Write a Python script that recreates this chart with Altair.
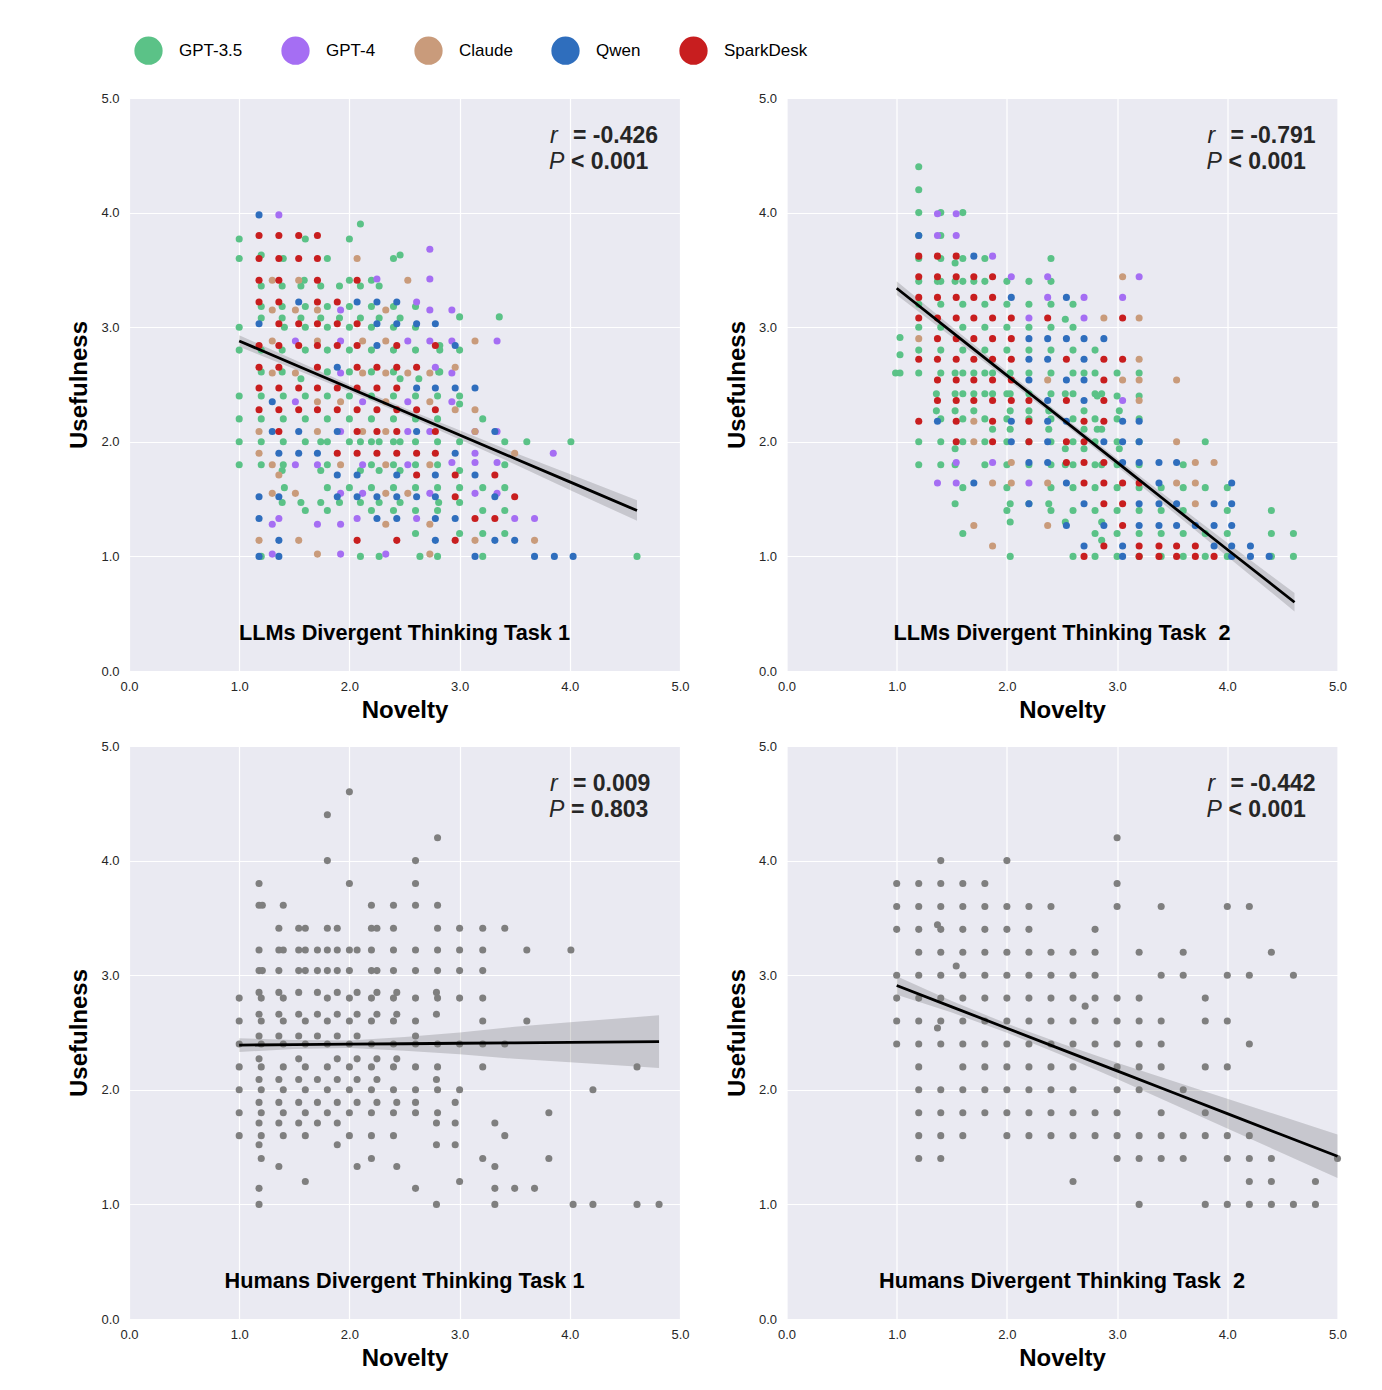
import altair as alt
import pandas as pd

SERIES = ["GPT-3.5", "GPT-4", "Claude", "Qwen", "SparkDesk"]
COLORS = ["#5bc287", "#a56ef3", "#c99b7b", "#2f6ebd", "#c81e1f"]
HUMAN_COLOR = "#7f7f7f"

# ---------------- Panel 1: LLMs task 1 (usefulness row -> novelty values)
P1_GPT35 = {
    3.90: [2.10], 3.77: [1.0, 1.60, 2.0], 3.63: [1.20, 2.46], 3.60: [1.0, 1.40, 1.80, 2.40],
    3.41: [1.59, 2.0, 2.20], 3.36: [1.20, 1.39, 1.56, 1.74, 1.91, 2.10, 2.27],
    3.18: [1.20, 1.39, 1.60, 1.80, 2.0, 2.20, 2.40, 2.60], 3.09: [3.0, 3.36],
    3.08: [1.20, 1.39, 1.56, 1.74, 1.91, 2.10, 2.27, 2.46],
    3.00: [1.0, 1.41, 1.60, 1.80, 2.0, 2.20, 2.40, 2.60], 2.84: [2.82],
    2.80: [1.0, 1.20, 1.39, 1.60, 1.80, 2.0, 2.20, 2.40, 2.60, 2.82, 3.0],
    2.61: [1.20, 1.39, 1.80, 2.0, 2.20, 2.40, 2.81, 2.82], 2.55: [1.56, 2.46, 2.63],
    2.40: [1.0, 1.20, 1.40, 1.60, 1.80, 2.0, 2.20, 2.40, 2.60, 2.80, 3.0], 2.33: [3.0],
    2.20: [1.0, 1.20, 1.40, 1.60, 1.80, 2.0, 2.20, 2.40, 2.60, 2.80, 3.21],
    2.00: [1.0, 1.20, 1.40, 1.60, 1.74, 1.80, 2.0, 2.10, 2.20, 2.27, 2.40, 2.46, 2.60, 2.80, 3.0, 3.41, 3.61, 4.01],
    1.80: [1.0, 1.20, 1.40, 1.80, 2.20, 2.40, 2.60, 2.80, 3.41],
    1.75: [1.39, 1.74, 2.10, 2.27, 2.46, 3.0],
    1.60: [1.41, 1.80, 2.0, 2.20, 2.40, 2.60, 2.80, 3.0, 3.21, 3.41],
    1.47: [1.39, 1.56, 1.74, 1.91, 2.10, 2.27, 2.46, 2.81, 3.0],
    1.40: [1.60, 1.80, 2.20, 2.40, 2.60, 2.80, 3.21, 3.41],
    1.20: [2.60, 3.0, 3.21, 3.41],
    1.00: [1.20, 2.10, 2.27, 2.64, 2.80, 3.21, 4.61],
}
P1_GPT4 = {
    3.98: [1.36], 3.68: [2.73], 3.42: [2.25, 2.73], 3.22: [2.61], 3.15: [1.92, 2.73, 2.93],
    2.88: [1.51, 1.92, 2.53, 2.73, 2.93, 3.34], 2.65: [2.78], 2.60: [1.92, 2.93],
    2.35: [1.51, 2.12, 2.53, 2.93], 2.09: [1.92, 2.53, 2.73, 3.14, 3.34], 1.90: [3.14, 3.85],
    1.82: [2.93, 3.14, 3.34], 1.80: [1.51, 1.71, 2.12, 2.53], 1.55: [1.92, 2.12, 2.73, 3.14, 3.34],
    1.33: [1.36, 2.07, 2.61, 3.50, 3.68], 1.28: [1.30, 1.71, 1.92], 1.02: [1.30, 1.92, 2.33],
}
P1_CLAUDE = {
    3.60: [2.07], 3.41: [1.30, 1.54, 2.53], 3.15: [1.30, 1.51, 1.71, 2.33],
    2.88: [1.30, 1.71, 2.12, 2.33, 3.14], 2.65: [2.96], 2.60: [1.30, 1.51, 2.12, 2.33, 2.53, 2.73],
    2.35: [1.71, 1.92, 2.33, 2.73], 2.28: [2.96, 3.14], 2.09: [1.18, 1.71, 2.12, 2.33, 3.14],
    1.90: [1.18, 3.50], 1.80: [1.30, 1.92, 2.33, 2.73], 1.71: [1.36], 1.55: [1.30, 1.51, 2.33, 2.53],
    1.28: [2.33, 2.73], 1.14: [1.18, 1.54, 3.14, 3.68], 1.02: [1.71, 2.73],
}
P1_QWEN = {
    3.98: [1.18], 3.22: [1.54, 2.07, 2.25, 2.43], 3.03: [1.18, 2.25, 2.43, 2.61, 2.78],
    2.84: [2.25, 2.96], 2.65: [1.89], 2.47: [2.61, 2.78, 2.96, 3.14], 2.35: [1.30],
    2.09: [1.30, 1.54, 1.89, 2.61, 3.32], 1.90: [1.36, 1.54, 1.71, 2.96],
    1.71: [1.89, 2.07, 2.43, 2.78, 3.14],
    1.52: [1.18, 1.36, 1.89, 2.07, 2.25, 2.43, 2.61, 2.78, 3.32],
    1.33: [1.18, 2.25, 2.43, 2.78, 2.96], 1.14: [1.36, 2.78, 3.32, 3.50],
    1.00: [1.18, 1.36, 3.14, 3.68, 3.86, 4.03],
}
P1_SPARK = {
    3.80: [1.18, 1.36, 1.54, 1.71], 3.60: [1.18, 1.36, 1.54, 1.71], 3.41: [1.18, 1.36, 1.71, 2.07],
    3.22: [1.18, 1.36, 1.71, 1.89], 3.03: [1.36, 1.54, 1.71, 1.89, 2.07],
    2.84: [1.18, 1.36, 1.54, 1.71, 1.89, 2.07, 2.43, 2.78],
    2.65: [1.18, 1.36, 1.71, 2.07, 2.25, 2.43, 2.61],
    2.47: [1.18, 1.36, 1.54, 1.71, 1.89, 2.07, 2.25, 2.43],
    2.28: [1.18, 1.36, 1.54, 1.71, 1.89, 2.07, 2.25, 2.43, 2.61, 2.78],
    2.09: [1.36, 2.07, 2.25, 2.43, 2.78], 1.90: [1.89, 2.07, 2.25, 2.43, 2.61, 2.78],
    1.71: [2.61, 2.96, 3.32], 1.52: [2.96, 3.50], 1.33: [3.14, 3.32], 1.14: [2.07, 2.43, 2.96],
}

# ---------------- Panel 2: LLMs task 2
P2_GPT35 = {
    4.40: [1.20], 4.20: [1.20], 4.00: [1.20, 1.40, 1.60], 3.80: [1.20, 1.40],
    3.60: [1.20, 1.40, 1.60, 1.80, 2.40], 3.56: [1.53],
    3.40: [1.20, 1.37, 1.40, 1.53, 1.60, 1.70, 1.80, 2.0, 2.20, 2.40],
    3.20: [1.20, 1.40, 1.60, 1.80, 2.0, 2.20, 2.40, 2.60], 3.07: [2.53],
    3.00: [1.20, 1.40, 1.60, 1.80, 2.0, 2.20, 2.40, 2.60], 2.91: [1.03],
    2.80: [1.20, 1.40, 1.60, 1.80, 2.0, 2.20, 2.40, 2.60, 2.80], 2.76: [1.03],
    2.60: [0.99, 1.03, 1.20, 1.40, 1.53, 1.60, 1.70, 1.80, 1.87, 2.03, 2.20, 2.40, 2.60, 2.70, 2.80, 3.0, 3.20],
    2.42: [1.36, 1.53, 1.60, 1.70, 1.80, 1.87, 2.0, 2.03, 2.20, 2.40, 2.53, 2.60, 2.80, 2.86],
    2.40: [2.82, 3.0, 3.20],
    2.27: [1.36, 1.53, 1.70, 2.03, 2.20, 2.38, 2.70, 3.02],
    2.20: [1.40, 1.60, 1.80, 2.0, 2.20, 2.40, 2.60, 2.80, 3.0, 3.20],
    2.11: [1.87, 2.03, 2.38, 2.70, 2.82, 2.86],
    2.00: [1.20, 1.40, 1.60, 1.80, 2.0, 2.20, 2.40, 2.60, 2.80, 3.0, 3.20, 3.80],
    1.94: [1.53, 2.53, 2.70, 3.02],
    1.80: [1.20, 1.40, 1.53, 1.80, 2.0, 2.20, 2.40, 2.53, 2.60, 2.80, 2.86, 3.0, 3.20, 3.60],
    1.60: [1.60, 2.0, 2.40, 2.60, 2.80, 3.0, 3.20, 3.40, 3.60, 3.80, 4.0],
    1.46: [1.53, 2.03, 2.20, 2.38],
    1.40: [2.0, 2.40, 2.60, 2.80, 3.0, 3.20, 3.40, 3.60, 4.0, 4.40],
    1.30: [2.03, 2.53, 2.86],
    1.20: [1.60, 2.80, 3.0, 3.20, 3.40, 3.60, 3.80, 4.0, 4.40, 4.60],
    1.14: [2.86],
    1.00: [2.03, 2.60, 2.80, 3.0, 3.20, 3.40, 3.60, 3.80, 4.0, 4.40, 4.60],
}
P2_GPT4 = {
    3.99: [1.37, 1.54], 3.80: [1.37, 1.54], 3.62: [1.87], 3.44: [2.04, 2.37, 3.20],
    3.26: [2.37, 2.70, 3.05], 3.08: [2.20, 2.70], 2.36: [3.05], 1.82: [1.54, 1.87],
    1.64: [1.37, 1.54, 2.20],
}
P2_CLAUDE = {
    3.44: [3.05], 3.08: [2.88, 3.20], 2.90: [1.20], 2.72: [3.20], 2.54: [2.37, 3.05, 3.20, 3.54],
    2.36: [3.20], 2.18: [1.70], 2.00: [1.70, 3.54], 1.82: [2.04, 3.71, 3.88],
    1.64: [1.87, 2.04, 2.37, 3.54, 3.71], 1.46: [3.71], 1.27: [1.70, 2.37], 1.09: [1.87],
}
P2_QWEN = {
    3.80: [1.20], 3.62: [1.70], 3.26: [2.04, 2.54], 2.90: [2.20, 2.37, 2.54, 2.70, 2.88],
    2.72: [2.20, 2.37, 2.70], 2.54: [2.20, 2.54, 2.70], 2.36: [2.37, 2.70],
    2.18: [1.37, 2.04, 2.37, 2.54, 3.05, 3.20], 2.00: [2.04, 2.37, 2.88, 3.05, 3.20],
    1.82: [2.20, 2.37, 3.05, 3.20, 3.38, 3.54], 1.64: [1.70, 2.54, 3.38, 4.04],
    1.46: [2.20, 2.70, 3.20, 3.38, 3.54, 3.88, 4.04],
    1.27: [2.54, 2.88, 3.20, 3.38, 3.54, 3.71, 3.88, 4.04],
    1.09: [2.70, 3.05, 3.88, 4.04, 4.21], 1.00: [3.05, 4.04, 4.21, 4.38],
}
P2_SPARK = {
    3.62: [1.20, 1.37, 1.54], 3.44: [1.20, 1.37, 1.54, 1.70, 1.87],
    3.26: [1.20, 1.37, 1.54, 1.70, 1.87], 3.08: [1.20, 1.37, 1.54, 1.70, 1.87, 2.04, 2.37, 3.05],
    2.90: [1.37, 1.54, 1.70, 1.87, 2.04],
    2.72: [1.20, 1.37, 1.54, 1.70, 1.87, 2.04, 2.54, 2.88, 3.05],
    2.54: [1.37, 1.54, 1.70, 1.87, 2.04, 2.88],
    2.36: [1.37, 1.54, 1.70, 1.87, 2.04, 2.20, 2.54, 2.88],
    2.18: [1.20, 1.54, 1.87, 2.20, 2.70, 2.88], 2.00: [1.54, 1.87, 2.20, 2.54, 2.70],
    1.82: [2.54, 2.70, 2.88], 1.64: [2.70, 2.88, 3.05, 3.20], 1.46: [2.88, 3.05], 1.27: [3.05],
    1.09: [2.88, 3.20, 3.38, 3.54, 3.71], 1.00: [2.70, 3.20, 3.38, 3.54, 3.71, 3.88],
}

# ---------------- Panel 3: Humans task 1
P3_HUMAN = {
    4.60: [2.0], 4.40: [1.80], 4.20: [2.80], 4.00: [1.80, 2.60], 3.80: [1.18, 2.0, 2.60],
    3.61: [1.18, 1.21, 1.40, 2.20, 2.40, 2.60, 2.80],
    3.41: [1.36, 1.54, 1.60, 1.80, 1.89, 2.20, 2.25, 2.40, 2.80, 3.0, 3.21, 3.41],
    3.22: [1.18, 1.36, 1.40, 1.54, 1.60, 1.71, 1.80, 1.89, 2.0, 2.07, 2.20, 2.40, 2.60, 2.80, 3.0, 3.21, 3.61, 4.01],
    3.04: [1.18, 1.21, 1.36, 1.54, 1.60, 1.71, 1.80, 1.89, 2.0, 2.20, 2.25, 2.40, 2.60, 2.80, 3.0, 3.21],
    2.85: [1.18, 1.36, 1.54, 1.71, 1.89, 2.07, 2.25, 2.43, 2.79],
    2.80: [1.0, 1.20, 1.40, 1.80, 2.0, 2.20, 2.40, 2.60, 2.80, 3.0, 3.21],
    2.66: [1.18, 1.36, 1.54, 1.71, 1.89, 2.07, 2.25, 2.43, 2.79],
    2.60: [1.0, 1.20, 1.40, 1.60, 1.80, 2.0, 2.20, 2.40, 2.60, 3.21, 3.61],
    2.47: [1.18, 1.36, 1.54, 1.71, 1.89, 2.07, 2.60],
    2.40: [1.0, 1.20, 1.40, 1.60, 1.80, 2.0, 2.20, 2.40, 2.60, 2.80, 3.0, 3.21, 3.41],
    2.27: [1.18, 1.54, 1.89, 2.07, 2.25, 2.43],
    2.20: [1.0, 1.20, 1.40, 1.60, 1.80, 2.0, 2.20, 2.40, 2.60, 2.80, 3.21, 4.61],
    2.09: [1.18, 1.36, 1.54, 1.71, 1.89, 2.07, 2.25, 2.79],
    2.00: [1.0, 1.20, 1.40, 1.60, 1.80, 2.0, 2.20, 2.40, 2.60, 2.80, 3.0, 4.21],
    1.89: [1.18, 1.36, 1.54, 1.71, 1.89, 2.07, 2.25, 2.43, 2.60, 2.96],
    1.80: [1.0, 1.20, 1.40, 1.60, 1.80, 2.0, 2.20, 2.40, 2.60, 2.80, 3.81],
    1.71: [1.18, 1.36, 1.54, 1.71, 1.89, 2.79, 2.96, 3.32],
    1.60: [1.0, 1.20, 1.40, 1.60, 2.0, 2.20, 2.40, 3.41],
    1.52: [1.18, 1.89, 2.79, 2.96], 1.40: [1.20, 2.20, 3.21, 3.81], 1.33: [1.36, 2.07, 2.43, 3.32],
    1.20: [1.60, 3.0], 1.14: [1.18, 2.60, 3.32, 3.50, 3.68],
    1.00: [1.18, 2.79, 3.32, 4.03, 4.21, 4.61, 4.81],
}

# ---------------- Panel 4: Humans task 2
P4_HUMAN = {
    4.20: [3.0], 4.00: [1.40, 2.0], 3.80: [1.0, 1.20, 1.40, 1.60, 1.80, 3.0],
    3.60: [1.0, 1.20, 1.40, 1.60, 1.80, 2.0, 2.20, 2.40, 3.0, 3.40, 4.0, 4.20], 3.44: [1.37],
    3.40: [1.0, 1.20, 1.40, 1.60, 1.80, 2.0, 2.20, 2.80],
    3.20: [1.20, 1.40, 1.60, 1.80, 2.0, 2.20, 2.40, 2.60, 2.80, 3.20, 3.60, 4.40], 3.08: [1.54],
    3.00: [1.0, 1.20, 1.40, 1.60, 1.80, 2.0, 2.20, 2.40, 2.60, 2.80, 3.40, 3.60, 4.0, 4.20, 4.60],
    2.80: [1.0, 1.20, 1.40, 1.60, 1.80, 2.0, 2.20, 2.40, 2.60, 2.80, 3.0, 3.20, 3.80], 2.73: [2.71],
    2.60: [1.0, 1.20, 1.40, 1.60, 1.80, 2.0, 2.20, 2.40, 2.60, 2.80, 3.0, 3.20, 3.40, 3.80, 4.0],
    2.54: [1.37],
    2.40: [1.0, 1.20, 1.40, 1.60, 1.80, 2.0, 2.20, 2.40, 2.60, 2.80, 3.0, 3.20, 3.40, 4.20],
    2.20: [1.20, 1.60, 1.80, 2.0, 2.20, 2.40, 2.60, 3.0, 3.20, 3.40, 3.80, 4.0],
    2.00: [1.20, 1.40, 1.60, 1.80, 2.0, 2.20, 2.40, 2.60, 3.0, 3.20, 3.60],
    1.80: [1.20, 1.40, 1.60, 1.80, 2.0, 2.20, 2.40, 2.60, 2.80, 3.0, 3.40, 3.80],
    1.60: [1.20, 1.40, 1.60, 2.0, 2.20, 2.40, 2.60, 2.80, 3.0, 3.20, 3.40, 3.60, 3.80, 4.0, 4.20],
    1.40: [1.20, 1.40, 3.0, 3.20, 3.40, 3.60, 4.0, 4.20, 4.40, 5.0],
    1.20: [2.60, 4.20, 4.40, 4.80],
    1.00: [3.20, 3.80, 4.0, 4.20, 4.40, 4.60, 4.80],
}

# ---------------- fitted lines and confidence bands
FIT1_X = [1.0, 1.5, 2.0, 2.5, 3.0, 3.5, 4.0, 4.61]
FIT1_Y = [2.88, 2.675, 2.47, 2.265, 2.06, 1.855, 1.65, 1.40]
FIT1_LO = [2.83, 2.635, 2.44, 2.235, 2.02, 1.805, 1.58, 1.31]
FIT1_HI = [2.93, 2.715, 2.50, 2.295, 2.10, 1.905, 1.72, 1.49]

FIT2_X = [1.0, 1.5, 2.0, 2.5, 3.0, 3.5, 4.0, 4.61]
FIT2_Y = [3.34, 2.96, 2.58, 2.20, 1.82, 1.44, 1.06, 0.60]
FIT2_LO = [3.28, 2.915, 2.545, 2.17, 1.785, 1.395, 1.00, 0.52]
FIT2_HI = [3.40, 3.005, 2.615, 2.23, 1.855, 1.485, 1.12, 0.68]

FIT3_X = [1.0, 1.5, 2.0, 2.5, 3.0, 3.5, 4.0, 4.81]
FIT3_Y = [2.39, 2.394, 2.398, 2.402, 2.406, 2.41, 2.414, 2.42]
FIT3_LO = [2.33, 2.355, 2.365, 2.34, 2.31, 2.27, 2.24, 2.19]
FIT3_HI = [2.45, 2.435, 2.43, 2.46, 2.50, 2.55, 2.59, 2.65]

FIT4_X = [1.0, 1.5, 2.0, 2.5, 3.0, 3.5, 4.0, 4.5, 5.0]
FIT4_Y = [2.91, 2.724, 2.5375, 2.351, 2.165, 1.979, 1.7925, 1.606, 1.42]
FIT4_LO = [2.83, 2.674, 2.4975, 2.301, 2.095, 1.879, 1.6625, 1.446, 1.23]
FIT4_HI = [2.99, 2.774, 2.5775, 2.401, 2.235, 2.079, 1.9225, 1.766, 1.61]

R_TEXT = ["= -0.426", "= -0.791", "= 0.009", "= -0.442"]
P_TEXT = ["< 0.001", "< 0.001", "= 0.803", "< 0.001"]
TITLES = ["LLMs Divergent Thinking Task 1", "LLMs Divergent Thinking Task\u00a0 2",
          "Humans Divergent Thinking Task 1", "Humans Divergent Thinking Task\u00a0 2"]
TICKS = [0, 1, 2, 3, 4, 5]

FONT = "Liberation Sans"
W, H = 551, 573


def rows(d, model):
    out = []
    for yv, xs in d.items():
        for xv in xs:
            out.append({"x": xv, "y": yv, "model": model})
    return out


XS = alt.Scale(domain=[0, 5], nice=False, zero=False)
YS = alt.Scale(domain=[0, 5], nice=False, zero=False)
AX_X = alt.Axis(values=TICKS, format=".1f", title="Novelty")
AX_Y = alt.Axis(values=TICKS, format=".1f", title="Usefulness")


def panel(points_df, fit_x, fit_y, lo, hi, i, colored):
    x_enc = alt.X("x:Q", scale=XS, axis=AX_X)
    y_enc = alt.Y("y:Q", scale=YS, axis=AX_Y)
    if colored:
        pts = alt.Chart(points_df).mark_circle(size=50, opacity=1).encode(
            x=x_enc, y=y_enc,
            color=alt.Color("model:N", scale=alt.Scale(domain=SERIES, range=COLORS),
                            legend=alt.Legend(title=None, orient="none", legendX=5, legendY=-62,
                                              direction="horizontal", columns=5,
                                              symbolType="circle", symbolSize=800,
                                              symbolStrokeWidth=0, symbolOpacity=1,
                                              labelFontSize=17, labelFont=FONT,
                                              labelColor="black", labelOffset=16,
                                              columnPadding=38)),
        )
    else:
        pts = alt.Chart(points_df).mark_circle(size=50, opacity=1, color=HUMAN_COLOR).encode(
            x=x_enc, y=y_enc)
    fit_df = pd.DataFrame({"x": fit_x, "y": fit_y, "lo": lo, "hi": hi})
    band = alt.Chart(fit_df).mark_area(color="black", opacity=0.15).encode(
        x=alt.X("x:Q", scale=XS, axis=AX_X),
        y=alt.Y("lo:Q", scale=YS, axis=AX_Y),
        y2="hi:Q",
    )
    line = alt.Chart(fit_df).mark_line(color="black", strokeWidth=2.8).encode(
        x=alt.X("x:Q", scale=XS, axis=AX_X),
        y=alt.Y("y:Q", scale=YS, axis=AX_Y),
    )
    ann = pd.DataFrame({"r": ["r"], "rv": [R_TEXT[i]], "p": ["P"], "pv": [P_TEXT[i]],
                        "title": [TITLES[i]]})
    base = alt.Chart(ann)
    r_it = base.mark_text(font=FONT, fontSize=23, fontStyle="italic", align="left",
                          baseline="middle", color="#262626").encode(
        x=alt.value(421), y=alt.value(38), text="r:N")
    r_v = base.mark_text(font=FONT, fontSize=23, fontWeight="bold", align="left",
                         baseline="middle", color="#262626").encode(
        x=alt.value(444), y=alt.value(38), text="rv:N")
    p_it = base.mark_text(font=FONT, fontSize=23, fontStyle="italic", align="left",
                          baseline="middle", color="#262626").encode(
        x=alt.value(420), y=alt.value(64), text="p:N")
    p_v = base.mark_text(font=FONT, fontSize=23, fontWeight="bold", align="left",
                         baseline="middle", color="#262626").encode(
        x=alt.value(442), y=alt.value(64), text="pv:N")
    ttl = base.mark_text(font=FONT, fontSize=21.7, fontWeight="bold", align="center",
                         baseline="middle", color="black").encode(
        x=alt.value(W / 2), y=alt.value(535), text="title:N")
    return alt.layer(band, pts, line, r_it, r_v, p_it, p_v, ttl).properties(width=W, height=H)


df1 = pd.DataFrame(rows(P1_GPT35, "GPT-3.5") + rows(P1_GPT4, "GPT-4") + rows(P1_CLAUDE, "Claude")
                   + rows(P1_QWEN, "Qwen") + rows(P1_SPARK, "SparkDesk"))
df2 = pd.DataFrame(rows(P2_GPT35, "GPT-3.5") + rows(P2_GPT4, "GPT-4") + rows(P2_CLAUDE, "Claude")
                   + rows(P2_QWEN, "Qwen") + rows(P2_SPARK, "SparkDesk"))
df3 = pd.DataFrame(rows(P3_HUMAN, "Human"))
df4 = pd.DataFrame(rows(P4_HUMAN, "Human"))

p1 = panel(df1, FIT1_X, FIT1_Y, FIT1_LO, FIT1_HI, 0, True)
p2 = panel(df2, FIT2_X, FIT2_Y, FIT2_LO, FIT2_HI, 1, True)
p3 = panel(df3, FIT3_X, FIT3_Y, FIT3_LO, FIT3_HI, 2, False)
p4 = panel(df4, FIT4_X, FIT4_Y, FIT4_LO, FIT4_HI, 3, False)

chart = alt.vconcat(
    alt.hconcat(p1, p2, spacing=34.5),
    alt.hconcat(p3, p4, spacing=34.5),
    spacing=16,
).properties(
    padding={"left": 59, "top": 28, "right": 5, "bottom": 5}
).configure(font=FONT).configure_view(
    fill="#EAEAF2", stroke="transparent"
).configure_axis(
    grid=True, gridColor="white", gridWidth=1.2, domain=False, ticks=False, tickSize=0,
    labelFontSize=13, labelColor="#262626", labelFont=FONT, labelFlush=False,
    labelOverlap=False, titleFont=FONT, titleFontSize=24, titleFontWeight="bold",
    titleColor="black",
).configure_axisX(labelPadding=9, titlePadding=5).configure_axisY(labelPadding=10, titlePadding=9)

chart.save("out.html", embed_options={"renderer": "svg", "actions": False})
